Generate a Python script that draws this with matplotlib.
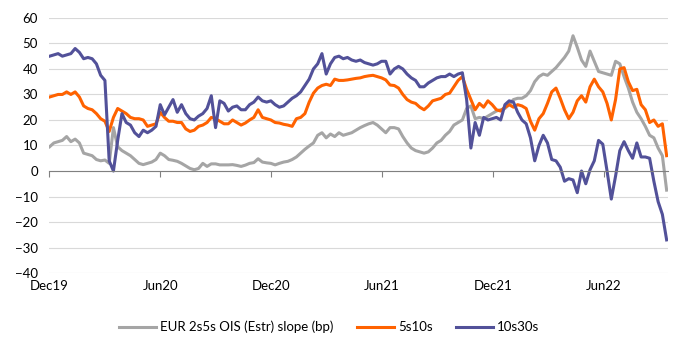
import pandas as pd
import numpy as np
import matplotlib.pyplot as plt
import matplotlib.dates as mdates

plt.rcParams['font.family'] = ['Lato', 'DejaVu Sans']

start_date = '2019-12-02'

slope_2s5s = [9.5, 11, 11.5, 12, 13.5, 11.5, 12.5, 11, 7, 6.5,
              6, 4.5, 4, 4.3, 3, 17, 9.5, 8, 7, 6,
              4.5, 3, 2.5, 3, 3.5, 4.5, 7, 6, 4.5, 4.2,
              3.8, 3, 2, 1, 0.5, 1, 3, 1.8, 2.8, 2.8,
              2.4, 2.4, 2.4, 2.5, 2.2, 1.8, 2.3, 3, 3.3, 4.8,
              3.5, 3.2, 3, 2.4, 3, 3.5, 3.8, 4.5, 5.5, 7,
              8.5, 9.8, 11, 14, 15, 13, 14.5, 13.5, 15, 14,
              14.5, 15, 16, 17, 17.8, 18.5, 19, 18, 16.5, 15,
              17, 17, 16.5, 13.5, 11, 9, 8, 7.5, 7, 7.5,
              9, 11, 12, 14, 15.5, 18, 19, 20, 24.5, 25.5,
              20.5, 21, 20.5, 21.5, 22.5, 23.5, 24, 24.5, 26, 28,
              28.5, 28.5, 29.5, 31.5, 35, 37, 38, 37.5, 39, 40.5,
              42.5, 44.5, 47, 53, 48.5, 43.5, 41, 47, 43, 39,
              38.5, 38, 37.5, 43, 42, 37, 32.5, 27, 23, 20.5,
              17.5, 14, 13, 9, 6, -7.5]

slope_5s10s = [29, 29.5, 30, 30, 31, 30, 31, 29, 25.5, 24.5,
               24, 22.5, 20.5, 19.5, 15.5, 21, 24.5, 23.5, 22.5, 21,
               20.5, 20.5, 20, 17.5, 18, 18.5, 23, 21, 19.5, 19.5,
               19, 19, 16.5, 15.5, 16, 17.5, 18, 19, 21, 20.5,
               19.5, 18.5, 18.5, 20, 19, 18, 18.8, 20, 21, 24,
               21, 20.5, 20, 19, 18.8, 18.3, 18, 17.5, 20.5, 21,
               22.5, 27, 30.5, 32.5, 33.5, 34, 33.5, 36, 35.5, 35.5,
               35.7, 36, 36.3, 36.5, 37, 37.3, 37.5, 37, 36.5, 35.7,
               33.7, 33.5, 32.5, 30, 28, 27, 26.5, 25, 24, 25.5,
               27.5, 28, 28.5, 30, 30.5, 33, 35.5, 37, 32, 28,
               24, 26.5, 25, 27.5, 26, 24, 23.5, 25, 26, 25,
               26, 25.5, 24.5, 19.5, 16, 20.5, 22.5, 26.5, 31, 32.5,
               28.5, 24, 20.5, 23, 27.5, 29.5, 27, 33, 36, 33,
               31, 26.5, 20, 28, 40, 40.5, 35, 31.5, 32, 26,
               24, 19, 20, 17.5, 18.5, 6]

slope_10s30s = [45, 45.5, 46, 45, 45.5, 46, 48, 46.5, 44, 44.5,
                44, 42, 37.5, 35.5, 4, 0, 12, 22.5, 19, 18,
                15, 13.5, 16, 15, 16, 17.5, 26, 22, 25, 28,
                23, 26, 22.5, 20.5, 20, 21.5, 22.5, 24.5, 29.5, 17,
                27.5, 26.5, 23.5, 25, 25.5, 24, 24, 26, 27, 29,
                27.5, 27, 27.5, 26, 25, 25.5, 27, 28.5, 29.5, 31,
                33.5, 36, 40, 42, 46, 38, 42, 44.5, 45, 44,
                44.5, 43.5, 43, 43.5, 42.5, 42, 41.5, 42, 43, 43,
                38, 40, 41, 40, 38, 36.5, 35.5, 33, 33, 34.5,
                35.5, 36.5, 37, 37, 38, 37, 38, 38.5, 28, 9,
                19, 14, 21, 20, 20.5, 21, 20, 26, 27.5, 27,
                23, 20, 18.5, 13, 4, 10, 14, 11, 4.5, 4,
                1.5, -4, -3, -3.5, -8.5, 0, -5, 0.5, 4, 12,
                10.5, 0, -11, -2, 8, 11.5, 8, 5, 11, 5.5,
                5.5, 5, -4, -12, -17, -27]

dates = pd.date_range(start_date, periods=len(slope_2s5s), freq='7D')

tick_dates = pd.to_datetime(['2019-12-01', '2020-06-01', '2020-12-01',
                             '2021-06-01', '2021-12-01', '2022-06-01'])
tick_labels = ['Dec19', 'Jun20', 'Dec20', 'Jun21', 'Dec21', 'Jun22']

fig = plt.figure(figsize=(6.93, 3.51), dpi=100)
ax = fig.add_axes([0.0707, 0.222, 0.893, 0.727])

ax.plot(dates, slope_2s5s, color='#A5A5A5', lw=2.2, label='EUR 2s5s OIS (Estr) slope (bp)')
ax.plot(dates, slope_5s10s, color='#FF6200', lw=2.2, label='5s10s')
ax.plot(dates, slope_10s30s, color='#525199', lw=2.2, label='10s30s')

ax.set_ylim(-40, 60)
ax.set_yticks(np.arange(-40, 61, 10))
ax.set_xlim(pd.Timestamp('2019-12-01'), pd.Timestamp('2022-09-14'))
ax.grid(axis='y', color='#D9D9D9', lw=0.8)
ax.set_axisbelow(True)

for s in ['top', 'right', 'left']:
    ax.spines[s].set_visible(False)
ax.spines['bottom'].set_position(('data', 0))
ax.spines['bottom'].set_color('#808080')
ax.set_xticks(tick_dates)
ax.tick_params(axis='x', length=4, color='#808080', labelbottom=False)
ax.tick_params(axis='y', length=0, labelsize=9.5, pad=8)

sec = ax.secondary_xaxis(-0.0)
sec.set_xticks(tick_dates, tick_labels)
sec.spines['bottom'].set_visible(False)
sec.tick_params(length=0, labelsize=9.5, pad=5)

fig.legend(loc='center', bbox_to_anchor=(0.475, 0.068), ncol=3, frameon=False,
           fontsize=9.5, handlelength=2.8, handletextpad=0.3, columnspacing=1.8)

fig.savefig('out.png', dpi=100)
